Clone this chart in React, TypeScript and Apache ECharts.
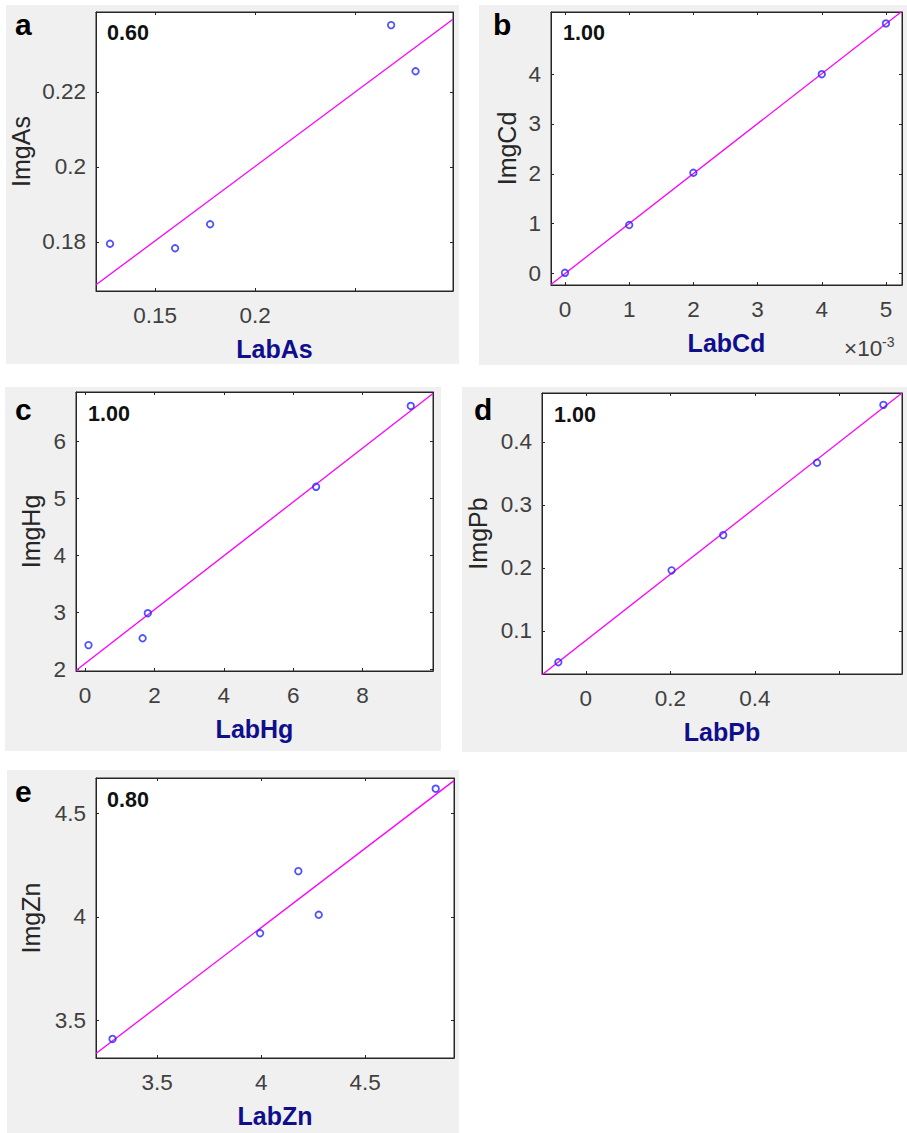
import React, { useEffect, useRef } from "react";
import * as echarts from "echarts";

// ---------------- data ----------------
const labAs = [0.1275, 0.16, 0.1775, 0.2679, 0.2801];
const imgAs = [0.1795, 0.1783, 0.1847, 0.2378, 0.2255];
const labCd = [0, 0.001, 0.002, 0.004, 0.005];
const imgCd = [0.01, 0.97, 2.02, 4.0, 5.02];
const labHg = [0.1, 1.66, 1.81, 6.66, 9.39];
const imgHg = [2.42, 2.54, 2.98, 5.2, 6.62];
const labPb = [-0.065, 0.203, 0.325, 0.547, 0.704];
const imgPb = [0.05, 0.196, 0.252, 0.367, 0.459];
const labZn = [3.285, 3.995, 4.179, 4.277, 4.84];
const imgZn = [3.412, 3.921, 4.22, 4.01, 4.617];

const panelLetters = ["a", "b", "c", "d", "e"];
const xNames = ["LabAs", "LabCd", "LabHg", "LabPb", "LabZn"];
const yNames = ["ImgAs", "ImgCd", "ImgHg", "ImgPb", "ImgZn"];
const scores = ["0.60", "1.00", "1.00", "1.00", "0.80"];

// tick values and their labels
const xTicksA = [0.15, 0.2, 0.25];
const xTickLabelsA = ["0.15", "0.2", ""];
const yTicksA = [0.18, 0.2, 0.22];
const yTickLabelsA = ["0.18", "0.2", "0.22"];
const xTicksB = [0, 0.001, 0.002, 0.003, 0.004, 0.005];
const xTickLabelsB = ["0", "1", "2", "3", "4", "5"];
const yTicksB = [0, 1, 2, 3, 4];
const yTickLabelsB = ["0", "1", "2", "3", "4"];
const xExponentB = ["×10", "-3"];
const xTicksC = [0, 2, 4, 6, 8];
const xTickLabelsC = ["0", "2", "4", "6", "8"];
const yTicksC = [2, 3, 4, 5, 6];
const yTickLabelsC = ["2", "3", "4", "5", "6"];
const xTicksD = [0, 0.2, 0.4, 0.6];
const xTickLabelsD = ["0", "0.2", "0.4", ""];
const yTicksD = [0.1, 0.2, 0.3, 0.4];
const yTickLabelsD = ["0.1", "0.2", "0.3", "0.4"];
const xTicksE = [3.5, 4, 4.5];
const xTickLabelsE = ["3.5", "4", "4.5"];
const yTicksE = [3.5, 4, 4.5];
const yTickLabelsE = ["3.5", "4", "4.5"];

// ---------------- layout ----------------
const FONT = "'Liberation Sans', Arial, Helvetica, sans-serif";
const TICK_FS = 22.5;
const XTITLE_FS = 25;
const YTITLE_FS = 25;
const LETTER_FS = 30;
const SCORE_FS = 21.5;

const layouts = [
  { bg: [6, 5, 453, 359], grid: [96, 12, 357, 279], xr: [0.1205, 0.2988], yr: [0.1669, 0.2413], letter: [15, 35], score: [107, 40.7], yGap: 62.5 },
  { bg: [479, 5, 428, 360], grid: [551, 12, 351, 273], xr: [-0.000218, 0.00525], yr: [-0.235, 5.25], letter: [493, 35], score: [563, 40.7], yGap: 32 },
  { bg: [5, 387, 436, 364], grid: [76, 392, 357, 279], xr: [-0.26, 10.03], yr: [1.965, 6.865], letter: [15, 420], score: [88, 421], yGap: 33 },
  { bg: [462, 387, 445, 365], grid: [542, 393, 360, 281], xr: [-0.1036, 0.748], yr: [0.0313, 0.4778], letter: [474, 420], score: [554, 422.3], yGap: 52 },
  { bg: [7, 770, 452, 363], grid: [96, 778, 358, 280], xr: [3.2053, 4.928], yr: [3.3203, 4.6686], letter: [15, 801.7], score: [107, 807.3], yGap: 53 },
];

const xs = [labAs, labCd, labHg, labPb, labZn];
const ys = [imgAs, imgCd, imgHg, imgPb, imgZn];
const xTicks = [xTicksA, xTicksB, xTicksC, xTicksD, xTicksE];
const xTickLabels = [xTickLabelsA, xTickLabelsB, xTickLabelsC, xTickLabelsD, xTickLabelsE];
const yTicks = [yTicksA, yTicksB, yTicksC, yTicksD, yTicksE];
const yTickLabels = [yTickLabelsA, yTickLabelsB, yTickLabelsC, yTickLabelsD, yTickLabelsE];

function leastSquares(x: number[], y: number[]) {
  const n = x.length;
  const mx = x.reduce((s, v) => s + v, 0) / n;
  const my = y.reduce((s, v) => s + v, 0) / n;
  let sxy = 0, sxx = 0;
  for (let i = 0; i < n; i++) {
    sxy += (x[i] - mx) * (y[i] - my);
    sxx += (x[i] - mx) * (x[i] - mx);
  }
  const b = sxy / sxx;
  return { a: my - b * mx, b };
}

function labeler(ticks: number[], labels: string[]) {
  return (v: number) => {
    const k = ticks.findIndex((t) => Math.abs(t - v) < 1e-9);
    return k >= 0 ? labels[k] : "";
  };
}

function textAt(text: string, x: number, baseline: number, fs: number, weight: string, color: string) {
  return {
    type: "text",
    z: 10,
    style: {
      text,
      x,
      y: baseline - 0.3465 * fs,
      fontSize: fs,
      fontWeight: weight,
      fontFamily: FONT,
      fill: color,
      align: "left",
      verticalAlign: "middle",
    },
  };
}

const AXIS_COLOR = "#262626";
const TICK_LABEL_COLOR = "#404040";

function buildOption() {
  const grid: any[] = [];
  const xAxis: any[] = [];
  const yAxis: any[] = [];
  const series: any[] = [];
  const graphic: any[] = [];

  layouts.forEach((l, i) => {
    grid.push({
      left: l.grid[0],
      top: l.grid[1],
      width: l.grid[2],
      height: l.grid[3],
      show: true,
      backgroundColor: "#ffffff",
      borderColor: AXIS_COLOR,
      borderWidth: 1,
    });
    const xLabeled = xTicks[i].filter((_, k) => xTickLabels[i][k] !== "");
    const yLabeled = yTicks[i].filter((_, k) => yTickLabels[i][k] !== "");
    const common = {
      type: "value",
      gridIndex: i,
      splitLine: { show: false },
      axisLine: { show: true, onZero: false, lineStyle: { color: AXIS_COLOR, width: 1 } },
    };
    xAxis.push({
      ...common,
      position: "bottom",
      min: l.xr[0],
      max: l.xr[1],
      axisTick: { show: true, inside: true, length: 3, customValues: xTicks[i], lineStyle: { color: AXIS_COLOR } },
      axisLabel: {
        show: true,
        customValues: xLabeled,
        formatter: labeler(xTicks[i], xTickLabels[i]),
        margin: 13,
        color: TICK_LABEL_COLOR,
        fontSize: TICK_FS,
        fontFamily: FONT,
      },
      name: xNames[i],
      nameLocation: "middle",
      nameGap: 45,
      nameTextStyle: { fontSize: XTITLE_FS, fontWeight: "bold", color: "#0f0f8c", fontFamily: FONT },
    });
    xAxis.push({
      ...common,
      position: "top",
      min: l.xr[0],
      max: l.xr[1],
      axisTick: { show: true, inside: true, length: 3, customValues: xTicks[i], lineStyle: { color: AXIS_COLOR } },
      axisLabel: { show: false },
    });
    yAxis.push({
      ...common,
      position: "left",
      min: l.yr[0],
      max: l.yr[1],
      axisTick: { show: true, inside: true, length: 3, customValues: yTicks[i], lineStyle: { color: AXIS_COLOR } },
      axisLabel: {
        show: true,
        customValues: yLabeled,
        formatter: labeler(yTicks[i], yTickLabels[i]),
        margin: 10,
        color: TICK_LABEL_COLOR,
        fontSize: TICK_FS,
        fontFamily: FONT,
      },
      name: yNames[i],
      nameLocation: "middle",
      nameGap: l.yGap,
      nameTextStyle: { fontSize: YTITLE_FS, color: "#262626", fontFamily: FONT },
    });
    yAxis.push({
      ...common,
      position: "right",
      min: l.yr[0],
      max: l.yr[1],
      axisTick: { show: true, inside: true, length: 3, customValues: yTicks[i], lineStyle: { color: AXIS_COLOR } },
      axisLabel: { show: false },
    });

    const fit = leastSquares(xs[i], ys[i]);
    series.push({
      type: "line",
      xAxisIndex: 2 * i,
      yAxisIndex: 2 * i,
      data: [
        [l.xr[0], fit.a + fit.b * l.xr[0]],
        [l.xr[1], fit.a + fit.b * l.xr[1]],
      ],
      symbol: "none",
      clip: true,
      lineStyle: { color: "#ff00ff", width: 1.3 },
      z: 2,
    });
    series.push({
      type: "scatter",
      xAxisIndex: 2 * i,
      yAxisIndex: 2 * i,
      data: xs[i].map((x, k) => [x, ys[i][k]]),
      symbol: "circle",
      symbolSize: 6.5,
      itemStyle: { color: "transparent", borderColor: "#2424ff", borderWidth: 1.8 },
      z: 3,
    });

    graphic.push({
      type: "rect",
      z: -10,
      shape: { x: l.bg[0], y: l.bg[1], width: l.bg[2], height: l.bg[3] },
      style: { fill: "#f0f0f0" },
    });
    graphic.push(textAt(panelLetters[i], l.letter[0], l.letter[1], LETTER_FS, "bold", "#000000"));
    graphic.push(textAt(scores[i], l.score[0], l.score[1], SCORE_FS, "bold", "#111111"));
  });

  graphic.push(textAt(xExponentB[0], 844, 356, TICK_FS, "normal", TICK_LABEL_COLOR));
  graphic.push(textAt(xExponentB[1], 882, 346.7, 14, "normal", TICK_LABEL_COLOR));

  return {
    animation: false,
    backgroundColor: "#ffffff",
    grid,
    xAxis,
    yAxis,
    series,
    graphic,
  };
}

export default function App() {
  const ref = useRef<HTMLDivElement>(null);
  useEffect(() => {
    if (!ref.current) return;
    const chart = echarts.init(ref.current, undefined, { renderer: "svg" });
    chart.setOption(buildOption() as any);
    return () => chart.dispose();
  }, []);
  return (
    <div
      ref={ref}
      style={{ position: "absolute", left: 0, top: 0, width: 907, height: 1133 }}
    />
  );
}
